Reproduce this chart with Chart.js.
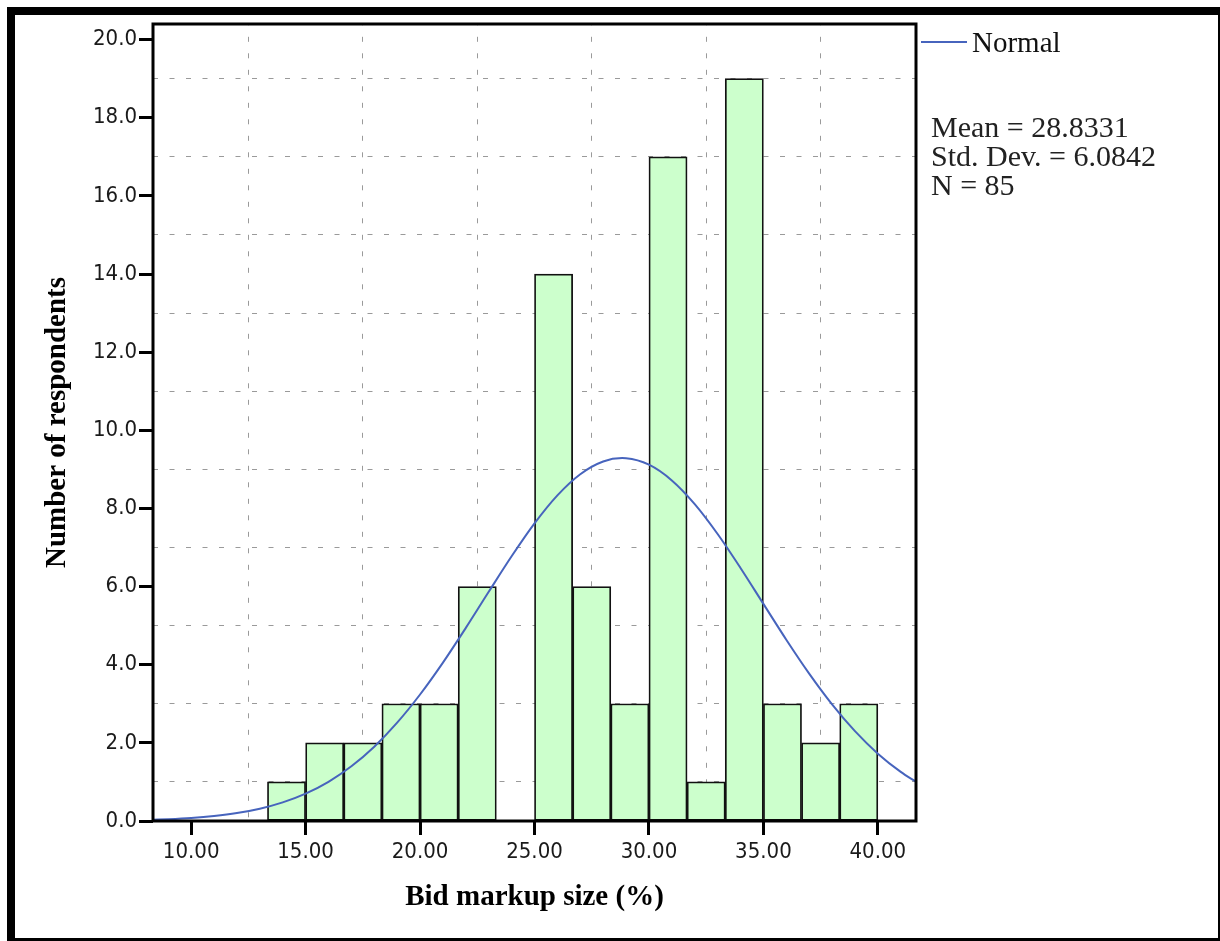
<!DOCTYPE html>
<html>
<head>
<meta charset="utf-8">
<title>Bid markup size histogram</title>
<script src="https://cdn.jsdelivr.net/npm/chart.js@4.4.0/dist/chart.umd.min.js"></script>
<style>
  html, body { margin: 0; padding: 0; background: #fff; }
  #wrap { position: relative; width: 1220px; height: 941px; overflow: hidden; }
  #chart { position: absolute; left: 0; top: 0; }
  #frame {
    position: absolute; left: 7px; top: 7px; right: 0; bottom: 0;
    border-style: solid; border-color: #000; border-width: 8px 2px 3px 8px;
    pointer-events: none;
  }
</style>
</head>
<body>
<div id="wrap">
  <canvas id="chart" width="1220" height="941"></canvas>
  <div id="frame"></div>
</div>
<script>
// histogram bins (centres of the 1.667-wide bins) and counts
const binCenters = [14.1667, 15.8333, 17.5, 19.1667, 20.8333, 22.5, 24.1667, 25.8333,
                    27.5, 29.1667, 30.8333, 32.5, 34.1667, 35.8333, 37.5, 39.1667];
const counts = [1, 2, 2, 3, 3, 6, 0, 14, 6, 3, 17, 1, 19, 3, 2, 3];

// normal curve
const curveX = [8.333, 9, 10, 11, 12, 13, 14, 15, 16, 17, 18, 19, 20, 21, 22, 23, 24, 25,
                26, 27, 28, 28.83, 29, 30, 31, 32, 33, 34, 35, 36, 37, 38, 39, 40, 41, 41.667];
const curveY = [0.032, 0.046, 0.077, 0.127, 0.202, 0.314, 0.476, 0.701, 1.004, 1.401, 1.903,
                2.517, 3.238, 4.055, 4.944, 5.867, 6.775, 7.617, 8.335, 8.877, 9.202, 9.289,
                9.286, 9.120, 8.718, 8.112, 7.347, 6.477, 5.558, 4.641, 3.773, 2.986, 2.300,
                1.724, 1.258, 1.004];

// axis ticks
const xLabelValues = [10, 15, 20, 25, 30, 35, 40];
const xGridValues = [12.5, 17.5, 22.5, 27.5, 32.5, 37.5];
const yLabelValues = [0, 2, 4, 6, 8, 10, 12, 14, 16, 18, 20];
const yGridValues = [1, 3, 5, 7, 9, 11, 13, 15, 17, 19];

const statLines = ['Mean = 28.8331', 'Std. Dev. = 6.0842', 'N = 85'];

const curveColor = '#4764bd';
const gridColor = '#9a9a9a';
const tickFont = {family: '"DejaVu Sans Condensed", "DejaVu Sans"', size: 22};

function mergedTicks(a, b){
    return a.concat(b).sort((p, q) => p - q).map(v => ({value: v}));
}
function tickIn(list, ctx){
    return ctx.tick && list.includes(ctx.tick.value);
}

const notesPlugin = {
    id: 'notes',
    afterDatasetsDraw(chart){
        let ctx = chart.ctx;
        let a = chart.chartArea;
        ctx.save();
        ctx.strokeStyle = '#000';
        ctx.lineWidth = 3;
        ctx.strokeRect(a.left, a.top, a.right - a.left, a.bottom - a.top);
        ctx.restore();
    },
    afterDraw(chart){
        let ctx = chart.ctx;
        let a = chart.chartArea;
        ctx.save();
        // legend
        ctx.strokeStyle = curveColor;
        ctx.lineWidth = 2;
        ctx.beginPath();
        ctx.moveTo(a.right + 5, a.top + 18);
        ctx.lineTo(a.right + 51, a.top + 18);
        ctx.stroke();
        ctx.font = '29px "Liberation Serif"';
        ctx.fillStyle = '#111';
        ctx.textBaseline = 'alphabetic';
        ctx.fillText(chart.data.datasets[0].label, a.right + 56, a.top + 28);
        // stats
        ctx.font = '30px "Liberation Serif"';
        ctx.fillStyle = '#222';
        for(let i = 0; i < statLines.length; i++){
            ctx.fillText(statLines[i], a.right + 15, a.top + 113 + i * 29);
        }
        ctx.restore();
    }
};

let chartContainer = document.getElementById('chart').getContext('2d');

let config = {
    type: 'bar',
    data: {
        datasets: [{
            type: 'line',
            label: 'Normal',
            data: curveX.map((x, i) => ({x: x, y: curveY[i]})),
            borderColor: curveColor,
            borderWidth: 2,
            pointRadius: 0,
            fill: false,
            cubicInterpolationMode: 'monotone',
            order: 1
        }, {
            type: 'bar',
            label: 'Frequency',
            data: binCenters.map((x, i) => ({x: x, y: counts[i]})),
            backgroundColor: '#ccffcc',
            borderColor: '#111',
            borderWidth: 1.75,
            borderSkipped: false,
            barPercentage: 1,
            categoryPercentage: 1,
            order: 2
        }]
    },
    options: {
        responsive: false,
        animation: false,
        layout: {padding: {left: 0, top: 24, right: 304, bottom: 0}},
        plugins: {
            legend: {display: false},
            tooltip: {enabled: false}
        },
        scales: {
            x: {
                type: 'linear',
                min: 8.3333,
                max: 41.6667,
                offset: false,
                afterBuildTicks: scale => { scale.ticks = mergedTicks(xLabelValues, xGridValues); },
                afterFit: scale => { scale.height = 120; },
                grid: {
                    offset: false,
                    color: ctx => tickIn(xGridValues, ctx) ? gridColor : 'rgba(0,0,0,0)',
                    lineWidth: 1,
                    tickLength: 14,
                    tickWidth: 3,
                    tickColor: ctx => tickIn(xLabelValues, ctx) ? '#000' : 'rgba(0,0,0,0)'
                },
                border: {display: false, dash: [5, 11.5], dashOffset: 3.7},
                ticks: {
                    autoSkip: false,
                    maxRotation: 0,
                    padding: 4,
                    color: '#1a1a1a',
                    font: tickFont,
                    callback: v => xLabelValues.includes(v) ? v.toFixed(2) : ''
                },
                title: {
                    display: true,
                    text: 'Bid markup size (%)',
                    color: '#000',
                    font: {family: 'Liberation Serif', size: 29, weight: 'bold', lineHeight: 1},
                    padding: {top: 0, bottom: 29}
                }
            },
            y: {
                min: 0,
                max: 20.4,
                afterBuildTicks: scale => { scale.ticks = mergedTicks(yLabelValues, yGridValues); },
                afterFit: scale => { scale.width = 153; },
                grid: {
                    color: ctx => tickIn(yGridValues, ctx) ? gridColor : 'rgba(0,0,0,0)',
                    lineWidth: 1,
                    tickLength: 14,
                    tickWidth: 3,
                    tickColor: ctx => tickIn(yLabelValues, ctx) ? '#000' : 'rgba(0,0,0,0)'
                },
                border: {display: false, dash: [5, 11.5]},
                ticks: {
                    autoSkip: false,
                    padding: 2,
                    color: '#1a1a1a',
                    font: tickFont,
                    callback: v => yLabelValues.includes(v) ? v.toFixed(1) : ''
                },
                title: {
                    display: true,
                    text: 'Number of respondents',
                    color: '#000',
                    font: {family: 'Liberation Serif', size: 29, weight: 'bold', lineHeight: 1},
                    padding: {top: 43.5, bottom: 0}
                }
            }
        }
    },
    plugins: [notesPlugin]
};

let chart = new Chart(chartContainer, config);
</script>
</body>
</html>
